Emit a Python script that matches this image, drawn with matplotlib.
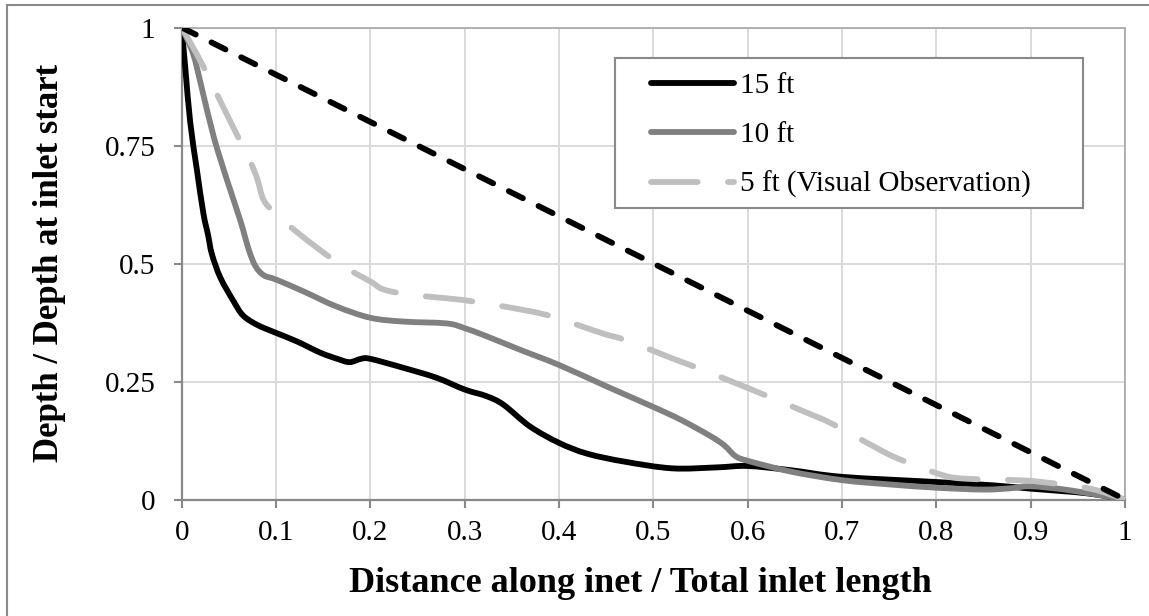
import matplotlib
matplotlib.use("Agg")
import matplotlib.pyplot as plt
from matplotlib.patches import Rectangle, PathPatch
from matplotlib.path import Path
from matplotlib.lines import Line2D

# ---------------- data ----------------
x_15ft = [0, 0.004, 0.009, 0.016, 0.023, 0.028, 0.032, 0.041, 0.055, 0.065, 0.08, 0.1,
          0.122, 0.147, 0.165, 0.178, 0.19, 0.2, 0.235, 0.27, 0.30, 0.323, 0.341, 0.369,
          0.40, 0.43, 0.47, 0.52, 0.567, 0.6, 0.646, 0.70, 0.8, 0.86, 0.9, 0.96, 1.0]
y_15ft = [1, 0.91, 0.80, 0.70, 0.606, 0.56, 0.52, 0.47, 0.42, 0.39, 0.37, 0.353,
          0.335, 0.311, 0.298, 0.291, 0.298, 0.298, 0.279, 0.258, 0.233, 0.219, 0.201, 0.155,
          0.12, 0.097, 0.08, 0.066, 0.068, 0.071, 0.062, 0.048, 0.037, 0.030, 0.023, 0.013, 0]

x_10ft = [0, 0.012, 0.021, 0.034, 0.048, 0.062, 0.071, 0.078, 0.087, 0.1, 0.129, 0.164,
          0.2, 0.235, 0.281, 0.30, 0.323, 0.359, 0.40, 0.45, 0.5, 0.53, 0.56, 0.575,
          0.587, 0.6, 0.646, 0.70, 0.75, 0.8, 0.85, 0.88, 0.9, 0.94, 1.0]
y_10ft = [1, 0.945, 0.874, 0.768, 0.677, 0.592, 0.53, 0.495, 0.475, 0.466, 0.441, 0.409,
          0.385, 0.377, 0.373, 0.363, 0.346, 0.317, 0.285, 0.24, 0.196, 0.168, 0.135, 0.115,
          0.092, 0.082, 0.059, 0.041, 0.032, 0.025, 0.021, 0.024, 0.028, 0.02, 0]

x_5ft = [0, 0.01, 0.023, 0.037, 0.058, 0.072, 0.08, 0.087, 0.1, 0.12, 0.147, 0.171,
         0.2, 0.214, 0.242, 0.292, 0.32, 0.369, 0.397, 0.446, 0.47, 0.52, 0.544, 0.593,
         0.616, 0.665, 0.689, 0.734, 0.759, 0.806, 0.832, 0.885, 0.912, 0.963, 1.0]
y_5ft = [1, 0.965, 0.917, 0.86, 0.775, 0.719, 0.68, 0.634, 0.605, 0.57, 0.528, 0.494,
         0.462, 0.445, 0.434, 0.424, 0.416, 0.399, 0.385, 0.352, 0.338, 0.299, 0.281, 0.242,
         0.223, 0.182, 0.161, 0.112, 0.087, 0.052, 0.044, 0.041, 0.037, 0.023, 0]

x_ref = [0, 1]
y_ref = [1, 0]

series_labels = ["15 ft", "10 ft", "5 ft (Visual Observation)"]
x_ticks = [0, 0.1, 0.2, 0.3, 0.4, 0.5, 0.6, 0.7, 0.8, 0.9, 1]
x_tick_labels = ["0", "0.1", "0.2", "0.3", "0.4", "0.5", "0.6", "0.7", "0.8", "0.9", "1"]
y_ticks = [0, 0.25, 0.5, 0.75, 1]
y_tick_labels = ["0", "0.25", "0.5", "0.75", "1"]
x_label = "Distance along inet / Total inlet length"
y_label = "Depth / Depth at inlet start"

# ---------------- helpers ----------------
def smooth_path(xs, ys):
    """Excel-style smoothed line: cubic Bezier through every data point."""
    pts = list(zip(xs, ys))
    n = len(pts)
    verts = [pts[0]]
    codes = [Path.MOVETO]
    for i in range(n - 1):
        p0 = pts[i - 1] if i > 0 else pts[i]
        p1 = pts[i]
        p2 = pts[i + 1]
        p3 = pts[i + 2] if i + 2 < n else pts[i + 1]
        c1 = (p1[0] + (p2[0] - p0[0]) / 6.0, p1[1] + (p2[1] - p0[1]) / 6.0)
        c2 = (p2[0] - (p3[0] - p1[0]) / 6.0, p2[1] - (p3[1] - p1[1]) / 6.0)
        verts += [c1, c2, p2]
        codes += [Path.CURVE4] * 3
    return Path(verts, codes)

# ---------------- figure ----------------
W, H = 1149, 616
plt.rcParams['font.family'] = ['Liberation Serif', 'DejaVu Serif']
fig = plt.figure(figsize=(W / 100, H / 100), dpi=100)
ax = fig.add_axes([181.7 / W, 1 - 499.5 / H, (1125 - 181.7) / W, (499.5 - 27.5) / H])

axis_gray = '#898989'
grid_gray = '#d9d9d9'
LW = 4.2
c15, c10, c5 = 'black', '#808080', '#bfbfbf'
dash5 = (8.0, 5.2)
dash_ref = (2.7, 3.0)

for xs, ys, col, z, ls in [(x_15ft, y_15ft, c15, 3.0, '-'),
                           (x_10ft, y_10ft, c10, 3.1, '-'),
                           (x_5ft, y_5ft, c5, 3.2, (0, dash5))]:
    pp = PathPatch(smooth_path(xs, ys), facecolor='none', edgecolor=col, lw=LW,
                   linestyle=ls, zorder=z)
    pp.set_capstyle('round')
    pp.set_joinstyle('round')
    ax.add_patch(pp)

ax.plot(x_ref, y_ref, color='black', lw=LW, dashes=dash_ref,
        dash_capstyle='round', zorder=3.3)

ax.set_xlim(0, 1)
ax.set_ylim(0, 1)
ax.set_xticks(x_ticks)
ax.set_xticklabels(x_tick_labels)
ax.set_yticks(y_ticks)
ax.set_yticklabels(y_tick_labels)
ax.grid(True, color=grid_gray, lw=1.4, zorder=0)
ax.set_axisbelow(True)

for side in ['left', 'bottom']:
    ax.spines[side].set_color(axis_gray)
    ax.spines[side].set_linewidth(1.6)
for side in ['top', 'right']:
    ax.spines[side].set_color('#a6a6a6')
    ax.spines[side].set_linewidth(1.2)

ax.tick_params(axis='both', which='major', direction='out', length=6, width=1.5,
               color=axis_gray, labelsize=21, labelcolor='black')
ax.tick_params(axis='y', pad=13)
ax.tick_params(axis='x', pad=9)

# axis titles
fig.text(640 / W, 1 - 592 / H, x_label, ha='center', va='baseline',
         fontsize=26, fontweight='bold')
fig.text(50 / W, 1 - 262.5 / H, y_label, ha='center', va='center', rotation=90,
         fontsize=25, fontweight='bold')

# outer chart border
fig.patches.append(Rectangle((7.3 / W, -0.5), 2, 1 - 5 / H + 0.5, transform=fig.transFigure,
                             fill=False, edgecolor=axis_gray, lw=1.5))

# legend frame (drawn manually for Excel-like padding)
lx0, lx1, ly0, ly1 = 615, 1083, 57.7, 207.7
ax.add_patch(Rectangle((lx0 / W, 1 - ly1 / H), (lx1 - lx0) / W, (ly1 - ly0) / H,
                       transform=fig.transFigure, facecolor='white',
                       edgecolor=axis_gray, lw=1.5, zorder=6, clip_on=False))

handles = [
    Line2D([], [], color=c15, lw=LW, solid_capstyle='round'),
    Line2D([], [], color=c10, lw=LW, solid_capstyle='round'),
    Line2D([], [], color=c5, lw=LW, dashes=dash5, dash_capstyle='round'),
]
leg = ax.legend(handles, series_labels, loc='upper left',
                bbox_to_anchor=(651 / W, 1 - 73 / H), bbox_transform=fig.transFigure,
                frameon=False, borderaxespad=0, borderpad=0, fontsize=21,
                handlelength=2.85, handletextpad=0.2, labelspacing=0.77)
leg.set_zorder(7)

fig.savefig('out.png', dpi=100)
